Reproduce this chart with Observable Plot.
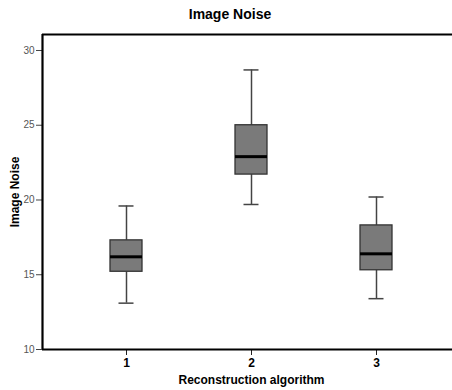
<!DOCTYPE html>
<html><head><meta charset="utf-8">
<script src="https://cdn.jsdelivr.net/npm/d3@7"></script>
<script src="https://cdn.jsdelivr.net/npm/@observablehq/plot@0.6"></script>
<style>
body{margin:0;background:#fff;font-family:"Liberation Sans",Arial,sans-serif;}
#title{height:26px;line-height:29px;text-align:center;font-weight:bold;font-size:14px;padding-left:8px;color:#000;}
#chart svg{display:block;font-family:"Liberation Sans",Arial,sans-serif;}
</style></head><body>
<div id="title">Image Noise</div>
<div id="chart"></div>
<script>
const algorithms = [1, 2, 3];
const whiskerLow = [13.1, 19.7, 13.4];
const lowerQuartile = [15.2, 21.7, 15.3];
const median = [16.2, 22.9, 16.4];
const upperQuartile = [17.3, 25.0, 18.3];
const whiskerHigh = [19.6, 28.7, 20.2];
const yTicks = [10, 15, 20, 25, 30];
const xTicks = [1, 2, 3];
const yLabel = "Image Noise";
const xLabel = "Reconstruction algorithm";

const data = algorithms.map((a, i) => ({
  a, lo: whiskerLow[i], q1: lowerQuartile[i], med: median[i], q3: upperQuartile[i], hi: whiskerHigh[i]
}));
const boxHalf = 0.128, capHalf = 0.06;
const xDomain = [0.328, 3.672], yDomain = [10, 31.07];

const chart = Plot.plot({
  width: 452, height: 364,
  marginLeft: 42, marginRight: 0, marginTop: 8, marginBottom: 41,
  x: {domain: xDomain, range: [42, 460]},
  y: {domain: yDomain},
  marks: [
    Plot.ruleX(data, {x: "a", y1: "lo", y2: "q1", stroke: "#444", strokeWidth: 1.5}),
    Plot.ruleX(data, {x: "a", y1: "q3", y2: "hi", stroke: "#444", strokeWidth: 1.5}),
    Plot.ruleY(data, {y: "lo", x1: d => d.a - capHalf, x2: d => d.a + capHalf, stroke: "#444", strokeWidth: 1.5}),
    Plot.ruleY(data, {y: "hi", x1: d => d.a - capHalf, x2: d => d.a + capHalf, stroke: "#444", strokeWidth: 1.5}),
    Plot.rect(data, {x1: d => d.a - boxHalf, x2: d => d.a + boxHalf, y1: "q1", y2: "q3", fill: "#7a7a7a", stroke: "#333", strokeWidth: 1.3}),
    Plot.ruleY(data, {y: "med", x1: d => d.a - boxHalf, x2: d => d.a + boxHalf, stroke: "#000", strokeWidth: 3}),
    Plot.axisY(yTicks, {tickSize: 6, tickPadding: 2, fontSize: 10, fill: "#555", stroke: "#444", label: null}),
    Plot.axisX(xTicks, {tickSize: 6, tickPadding: 3, fontSize: 12, fontWeight: "bold", stroke: "#222", label: null, tickFormat: d3.format("d")}),
    Plot.ruleY([yDomain[0]], {stroke: "#000", strokeWidth: 2.2}),
    Plot.ruleY([yDomain[1]], {stroke: "#000", strokeWidth: 2.2}),
    Plot.ruleX([xDomain[0]], {y1: yDomain[0], y2: yDomain[1], stroke: "#000", strokeWidth: 2.2}),
    Plot.text([yLabel], {frameAnchor: "left", textAnchor: "middle", rotate: -90, dx: -27, fontWeight: "bold", fontSize: 12, fill: "#000"}),
    Plot.text([xLabel], {frameAnchor: "bottom", dx: 4, dy: 34, fontWeight: "bold", fontSize: 12, fill: "#000"})
  ]
});
document.getElementById("chart").appendChild(chart);
</script>
</body></html>
